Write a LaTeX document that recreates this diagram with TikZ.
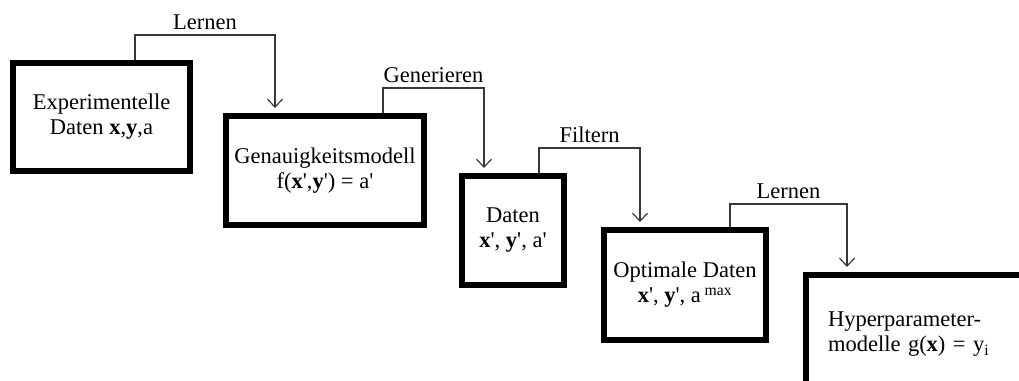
\documentclass[tikz,border=0pt]{standalone}
\usepackage{fontspec}
\setmainfont{Liberation Serif}
\usetikzlibrary{arrows.meta}
\newcommand{\pq}{\textquotesingle}
\begin{document}
\begin{tikzpicture}[x=1pt, y=-1pt,
  every node/.style={font=\fontsize{22.5}{25}\selectfont},
  stage/.style={draw=black, line width=6pt, align=center, inner sep=0pt},
  flow/.style={draw=black!78, line width=1.2pt,
    -{Straight Barb[length=8pt,width=15pt,line width=1.2pt]}, shorten >=5pt},
  lbl/.style={anchor=base, inner sep=0pt, yshift=6pt, text=black}]
\useasboundingbox (0,0) rectangle (1019,380);
\clip (0,0) rectangle (1019,380);

% process stages
\node[stage, minimum width=177pt, minimum height=108pt] (b1) at (101.5,117)
  {Experimentelle\\Daten \textbf{x},\textbf{y},a};
\node[stage, minimum width=198pt, minimum height=109pt] (b2) at (325,170.5)
  {Genauigkeitsmodell\\f(\textbf{x}\pq,\textbf{y}\pq) = a\pq};
\node[stage, minimum width=102pt, minimum height=109pt] (b3) at (513,230.5)
  {Daten\\\textbf{x}\pq, \textbf{y}\pq, a\pq};
\node[stage, minimum width=162pt, minimum height=110pt] (b4) at (685,285)
  {Optimale Daten\\\textbf{x}\pq, \textbf{y}\pq, a\,\textsuperscript{max}};
\node[stage, minimum width=234pt, minimum height=119pt, text width=190pt, align=left] (b5) at (923,334.5)
  {Hyperparameter-\\modelle g(\textbf{x}) = y\textsubscript{i}};

% bends of the connectors
\coordinate (k1) at (135,35);  \coordinate (k2) at (275,35);
\coordinate (k3) at (383,88);  \coordinate (k4) at (484,88);
\coordinate (k5) at (539,148); \coordinate (k6) at (640,148);
\coordinate (k7) at (730,204); \coordinate (k8) at (847,204);

% connectors with their labels
\draw[flow] (b1.north -| k1) |- (k2) node[lbl, pos=0.75] (t1) {Lernen} -- (b2.north -| k2);
\draw[flow] (b2.north -| k3) |- (k4) node[lbl, pos=0.75] (t2) {Generieren} -- (b3.north -| k4);
\draw[flow] (b3.north -| k5) |- (k6) node[lbl, pos=0.75] (t3) {Filtern} -- (b4.north -| k6);
\draw[flow] (b4.north -| k7) |- (k8) node[lbl, pos=0.75] (t4) {Lernen} -- (b5.north -| k8);
\end{tikzpicture}
\end{document}
